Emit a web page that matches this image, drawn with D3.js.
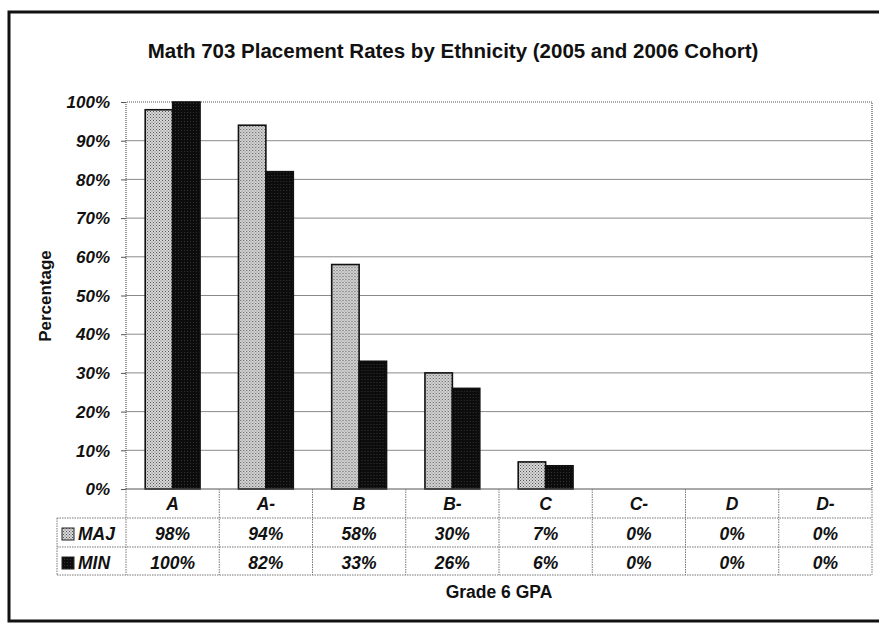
<!DOCTYPE html>
<html>
<head>
<meta charset="utf-8">
<script src="https://cdn.jsdelivr.net/npm/d3@7/dist/d3.min.js"></script>
<style>
  html, body { margin: 0; padding: 0; background: #fff; }
  svg { display: block; font-family: "Liberation Sans", Arial, sans-serif; }
</style>
</head>
<body>
<svg id="chart" width="879" height="626"></svg>
<script>
// Grade 6 GPA categories and placement rates (%) per group
const categories = ["A", "A-", "B", "B-", "C", "C-", "D", "D-"];
const seriesNames = ["MAJ", "MIN"];
const majValues = [98, 94, 58, 30, 7, 0, 0, 0];
const minValues = [100, 82, 33, 26, 6, 0, 0, 0];
const yTicks = [0, 10, 20, 30, 40, 50, 60, 70, 80, 90, 100];

const seriesValues = [majValues, minValues];

const svg = d3.select("#chart");

// stipple fills
const defs = svg.append("defs");
const pLight = defs.append("pattern").attr("id", "stipLight")
  .attr("width", 3).attr("height", 3).attr("patternUnits", "userSpaceOnUse");
pLight.append("rect").attr("width", 3).attr("height", 3).attr("fill", "#d8d8d8");
pLight.append("rect").attr("x", 0).attr("y", 0).attr("width", 1).attr("height", 1).attr("fill", "#555");
pLight.append("rect").attr("x", 1.5).attr("y", 1.5).attr("width", 1).attr("height", 1).attr("fill", "#666");
const pDark = defs.append("pattern").attr("id", "stipDark")
  .attr("width", 3).attr("height", 3).attr("patternUnits", "userSpaceOnUse");
pDark.append("rect").attr("width", 3).attr("height", 3).attr("fill", "#0c0c0c");
pDark.append("rect").attr("x", 1).attr("y", 1).attr("width", 1).attr("height", 1).attr("fill", "#333");
const fills = ["url(#stipLight)", "url(#stipDark)"];

// outer frame
svg.append("rect")
  .attr("x", 9).attr("y", 12).attr("width", 900).attr("height", 609)
  .attr("fill", "none").attr("stroke", "#111").attr("stroke-width", 3);

// title
svg.append("text")
  .attr("x", 453).attr("y", 58)
  .attr("text-anchor", "middle")
  .attr("font-weight", "bold").attr("font-size", 20.5)
  .attr("fill", "#111")
  .text("Math 703 Placement Rates by Ethnicity (2005 and 2006 Cohort)");

const plot = { left: 126, right: 872, top: 102, bottom: 489 };

const x = d3.scaleBand().domain(categories)
  .range([plot.left, plot.right]).paddingInner(0).paddingOuter(0);
const xs = d3.scaleBand().domain(seriesNames)
  .range([0, x.bandwidth()]).paddingInner(0).paddingOuter(0.7);
const y = d3.scaleLinear().domain([0, 100]).range([plot.bottom, plot.top]);

// gridlines
svg.append("g").selectAll("line").data(yTicks.filter(t => t > 0 && t < 100)).join("line")
  .attr("x1", plot.left).attr("x2", plot.right)
  .attr("y1", d => y(d)).attr("y2", d => y(d))
  .attr("stroke", "#8a8a8a").attr("stroke-width", 1);

// plot border: dotted top, right, left
svg.append("path")
  .attr("d", `M${plot.left},${plot.bottom} V${plot.top} H${plot.right} V${plot.bottom}`)
  .attr("fill", "none").attr("stroke", "#555").attr("stroke-width", 1.2)
  .attr("stroke-dasharray", "1,1");

// y axis
const yAxis = d3.axisLeft(y).tickValues(yTicks).tickSize(5).tickPadding(11)
  .tickFormat(d => d + "%");
const gy = svg.append("g").attr("transform", `translate(${plot.left},0)`).call(yAxis);
gy.select(".domain").remove();
gy.selectAll(".tick line").attr("stroke", "#555");
gy.selectAll(".tick text")
  .attr("font-size", 17).attr("font-weight", "bold").attr("font-style", "italic")
  .attr("fill", "#111").attr("dy", "0.34em");

// bars
const groups = svg.append("g").selectAll("g").data(categories).join("g")
  .attr("transform", d => `translate(${x(d)},0)`);
groups.selectAll("rect")
  .data((c, i) => seriesNames.map((s, k) => ({ s, k, v: seriesValues[k][i] })))
  .join("rect")
  .filter(d => d.v > 0)
  .attr("x", d => xs(d.s))
  .attr("width", xs.bandwidth())
  .attr("y", d => y(d.v))
  .attr("height", d => y(0) - y(d.v))
  .attr("fill", d => fills[d.k])
  .attr("stroke", "#111").attr("stroke-width", 1.6);

// baseline
svg.append("line")
  .attr("x1", plot.left).attr("x2", plot.right)
  .attr("y1", plot.bottom).attr("y2", plot.bottom)
  .attr("stroke", "#555").attr("stroke-width", 1.2);

// data table
const rowTop = [plot.bottom, 518, 547, 575];
const legendLeft = 57;
const table = svg.append("g").attr("stroke", "#777").attr("stroke-width", 1)
  .attr("stroke-dasharray", "1.5,1").attr("fill", "none");
[1, 2, 3].forEach(r => {
  table.append("line").attr("x1", legendLeft).attr("x2", plot.right)
    .attr("y1", rowTop[r]).attr("y2", rowTop[r]);
});
table.append("line").attr("x1", legendLeft).attr("x2", legendLeft)
  .attr("y1", rowTop[1]).attr("y2", rowTop[3]);
table.selectAll("line.v").data(categories.concat(["end"])).join("line")
  .attr("class", "v")
  .attr("x1", (d, i) => plot.left + i * x.bandwidth())
  .attr("x2", (d, i) => plot.left + i * x.bandwidth())
  .attr("y1", rowTop[0]).attr("y2", rowTop[3]);

const cellText = (sel) => sel
  .attr("font-size", 17.5).attr("font-weight", "bold").attr("font-style", "italic")
  .attr("fill", "#111").attr("text-anchor", "middle");

svg.append("g").selectAll("text").data(categories).join("text")
  .attr("x", d => x(d) + x.bandwidth() / 2).attr("y", 510)
  .call(cellText).text(d => d);

const rowBase = [540, 569];
seriesNames.forEach((s, k) => {
  svg.append("g").selectAll("text").data(categories).join("text")
    .attr("x", d => x(d) + x.bandwidth() / 2).attr("y", rowBase[k])
    .call(cellText).text((d, i) => seriesValues[k][i] + "%");
  svg.append("rect")
    .attr("x", 62).attr("y", rowBase[k] - 12).attr("width", 12).attr("height", 12)
    .attr("fill", fills[k]).attr("stroke", "#222").attr("stroke-width", 1);
  svg.append("text")
    .attr("x", 78).attr("y", rowBase[k])
    .attr("font-size", 17.5).attr("font-weight", "bold").attr("font-style", "italic")
    .attr("fill", "#111").text(s);
});

// axis titles
svg.append("text")
  .attr("transform", "translate(51,296) rotate(-90)")
  .attr("text-anchor", "middle")
  .attr("font-size", 17).attr("font-weight", "bold").attr("fill", "#111")
  .text("Percentage");
svg.append("text")
  .attr("x", 499).attr("y", 598)
  .attr("text-anchor", "middle")
  .attr("font-size", 17.5).attr("font-weight", "bold").attr("fill", "#111")
  .text("Grade 6 GPA");
</script>
</body>
</html>
